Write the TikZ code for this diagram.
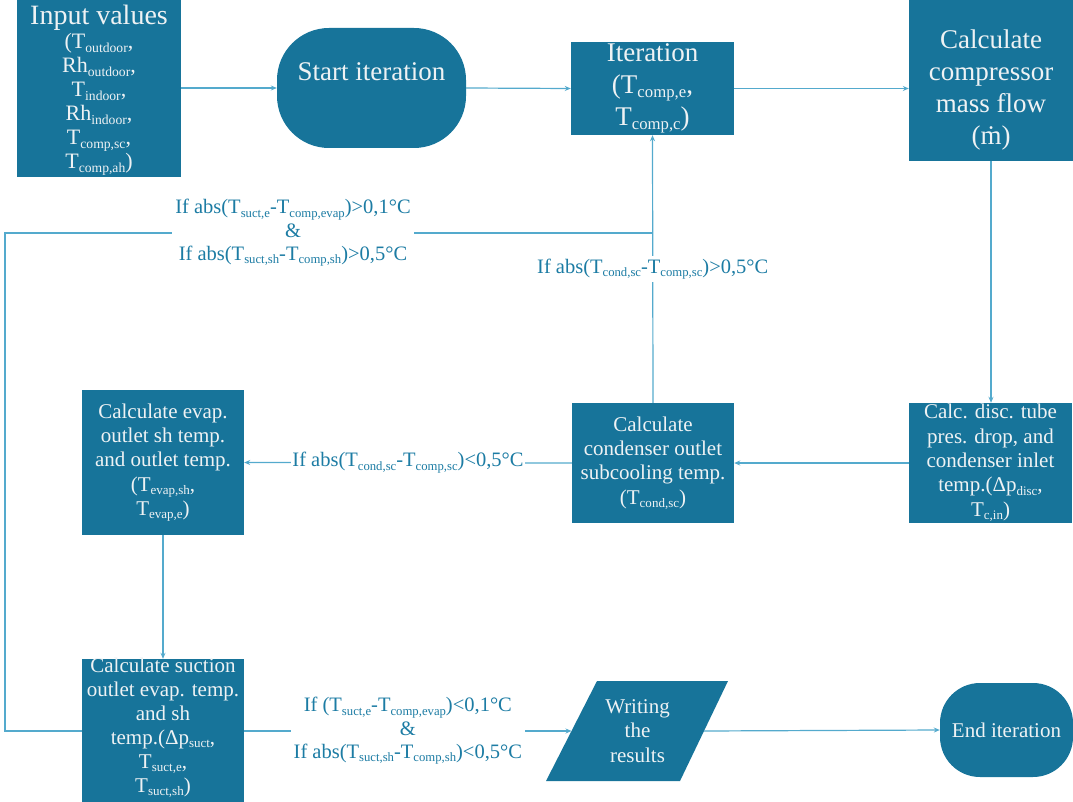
\documentclass[tikz,border=0pt]{standalone}
\usepackage{fontspec}
\setmainfont{Liberation Serif}
\usepackage{graphicx}
\usetikzlibrary{arrows.meta}
\definecolor{boxfill}{RGB}{23,116,154}
\definecolor{linec}{RGB}{84,170,205}
\definecolor{labc}{RGB}{28,124,164}
\definecolor{boxtext}{RGB}{238,242,244}
\newcommand\sbs[1]{\raisebox{-0.35ex}{\scalebox{0.62}{#1}}}
\newcommand\bigf{\fontsize{27}{32}\selectfont}
\newcommand\midf{\fontsize{21}{24.3}\selectfont}
\newcommand\inpf{\fontsize{22}{24}\selectfont}
\newcommand\labf{\fontsize{20.5}{23.3}\selectfont}
\begin{document}
\begin{tikzpicture}[x=1pt,y=-1pt,
  blk/.style={fill=boxfill, draw=none, text=boxtext, align=center, inner sep=0pt, font=\midf},
  txt/.style={text=boxtext, align=center, inner sep=0pt},
  conn/.style={draw=linec, line width=1.2pt, -{Stealth[length=6pt,width=5pt]}},
  plain/.style={draw=linec, line width=1.2pt},
  lbl/.style={fill=white, text=labc, font=\labf, align=center, inner sep=3pt}
]
\useasboundingbox (0,0) rectangle (1073,802);

% nodes
\node[blk, minimum width=164pt, minimum height=177pt] (inp) at (99,88.5) {};
\node[txt, font=\inpf] (inpt) at (99,90)
  {{\fontsize{28}{30}\selectfont Input values}\\(T\sbs{outdoor},\\Rh\sbs{outdoor},\\T\sbs{indoor},\\Rh\sbs{indoor},\\T\sbs{comp,sc},\\T\sbs{comp,ah})};
\node[blk, minimum width=189pt, minimum height=120pt, rounded corners=52pt, font=\bigf] (start) at (371.5,88)
  {Start iteration\\\mbox{}};
\node[blk, minimum width=163pt, minimum height=93pt, font=\bigf] (iter) at (652.5,88.5)
  {Iteration\\(T\sbs{comp,e},\\T\sbs{comp,c})};
\node[blk, minimum width=164pt, minimum height=161pt] (comp) at (991,80.5) {};
\node[txt, font=\bigf] (compt) at (991,90)
  {Calculate\\compressor\\mass flow\\(ṁ)};
\node[blk, minimum width=163pt, minimum height=120pt] (disc) at (990.5,463)
  {Calc. disc. tube\\pres. drop, and\\condenser inlet\\temp.(Δp\sbs{disc},\\T\sbs{c,in})};
\node[blk, minimum width=162pt, minimum height=120pt] (cond) at (653,463)
  {Calculate\\condenser outlet\\subcooling temp.\\(T\sbs{cond,sc})};
\node[blk, minimum width=162pt, minimum height=145pt] (evap) at (163,462.5)
  {Calculate evap.\\outlet sh temp.\\and outlet temp.\\(T\sbs{evap,sh},\\T\sbs{evap,e})};
\node[blk, minimum width=162pt, minimum height=143pt] (suct) at (163,730.5) {};
\node[txt, font=\fontsize{21}{24}\selectfont] (suctt) at (163,728)
  {Calculate suction\\outlet evap. temp.\\and sh\\temp.(Δp\sbs{suct},\\T\sbs{suct,e},\\T\sbs{suct,sh})};
\fill[boxfill] (597,681) -- (728,681) -- (680,781) -- (546,781) -- cycle;
\node[txt, font=\midf] (write) at (637.5,731) {Writing\\the\\results};
\coordinate (wl) at (571.5,731);
\coordinate (wr) at (704,731);
\node[blk, minimum width=133pt, minimum height=94pt, rounded corners=40pt] (end) at (1006.5,730)
  {End iteration};

% connectors
\draw[conn] (inp.east |- start.west) -- (start.west);
\draw[conn] (start.east) -- (iter.west);
\draw[conn] (iter.east) -- (iter.east -| comp.west);
\draw[conn] (comp.south) -- (comp.south |- disc.north);
\draw[conn] (disc.west) -- (cond.east);
\draw[conn] (cond.north) -- (iter.south)
  node[lbl, midway] (l1) {If abs(T\sbs{cond,sc}-T\sbs{comp,sc})>0,5°C};
\draw[conn] (cond.west) -- (evap.east)
  node[lbl, midway, inner sep=1pt] (l2) {If abs(T\sbs{cond,sc}-T\sbs{comp,sc})<0,5°C};
\draw[conn] (evap.south) -- (suct.north);
\draw[conn] (suct.east |- wl) -- (wl)
  node[lbl, midway] (l3) {If (T\sbs{suct,e}-T\sbs{comp,evap})<0,1°C\\\&\\If abs(T\sbs{suct,sh}-T\sbs{comp,sh})<0,5°C};
\draw[conn] (wr) -- (end.west);
\coordinate (lft) at (5,233);
\coordinate (fb) at (cond.north |- lft);
\draw[plain] (suct.west |- wl) -| (lft) -- (fb);
\node[lbl] (l4) at (293,233) {If abs(T\sbs{suct,e}-T\sbs{comp,evap})>0,1°C\\\&\\If abs(T\sbs{suct,sh}-T\sbs{comp,sh})>0,5°C};
\end{tikzpicture}
\end{document}
